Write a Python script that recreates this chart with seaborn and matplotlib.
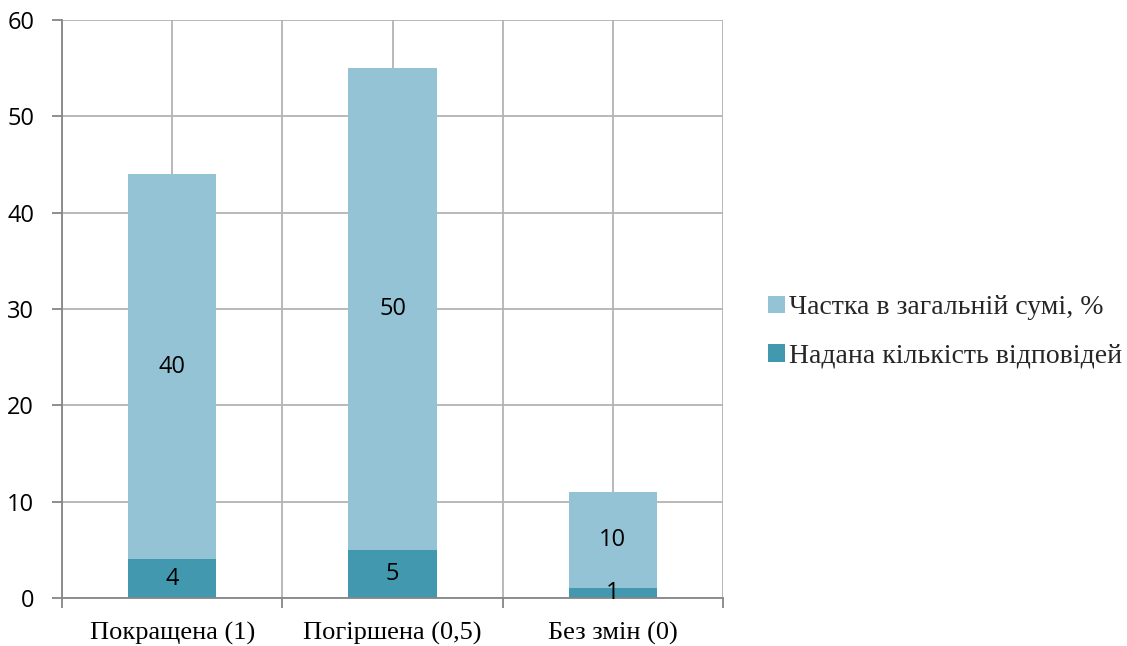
import matplotlib
matplotlib.use("Agg")
import matplotlib.pyplot as plt
import seaborn as sns
import pandas as pd
from matplotlib.patches import Patch

categories = ["Покращена (1)", "Погіршена (0,5)", "Без змін (0)"]
responses = [4, 5, 1]          # Надана кількість відповідей
share_pct = [40, 50, 10]       # Частка в загальній сумі, %
series_names = ["Частка в загальній сумі, %", "Надана кількість відповідей"]

light = "#93C3D4"
dark = "#4198AF"
grid_col = "#b3b3b3"
axis_col = "#868686"

sns.set_theme(style="white")
plt.rcParams["font.family"] = ["Open Sans", "DejaVu Sans"]

df = pd.DataFrame({
    "cat": categories,
    "resp": responses,
    "share": share_pct,
})
df["total"] = df["resp"] + df["share"]

fig = plt.figure(figsize=(11.27, 6.46), dpi=100)
ax = fig.add_axes([62 / 1127, 1 - 598 / 646, (723 - 62) / 1127, (598 - 20) / 646])

# stacked bars: full height in light colour, bottom segment drawn over it
sns.barplot(data=df, x="cat", y="total", color=light, width=0.4,
            saturation=1, linewidth=0, ax=ax, zorder=3)
sns.barplot(data=df, x="cat", y="resp", color=dark, width=0.4,
            saturation=1, linewidth=0, ax=ax, zorder=4)

ax.set_xlim(-0.5, 2.5)
ax.set_ylim(0, 60)
ax.set_yticks(range(0, 61, 10))
ax.set_xlabel("")
ax.set_ylabel("")

# vertical grid at category centres and boundaries
ax.set_xticks([-0.5, 0.5, 1.5, 2.5], minor=True)
ax.grid(axis="y", color=grid_col, linewidth=1.3, zorder=0)
ax.grid(axis="x", which="both", color=grid_col, linewidth=1.3, zorder=0)
ax.set_axisbelow(True)

for side in ["top", "right"]:
    ax.spines[side].set_visible(False)
for side in ["left", "bottom"]:
    ax.spines[side].set_color(axis_col)
    ax.spines[side].set_linewidth(1.3)
    ax.spines[side].set_zorder(5)

ax.tick_params(axis="y", which="major", left=True, length=7, width=1.3,
               color=axis_col, labelsize=17, pad=13, labelcolor="black")
ax.tick_params(axis="x", which="major", bottom=False, length=0, pad=17)
ax.tick_params(axis="x", which="minor", bottom=True, length=7, width=1.3,
               color=axis_col)
ax.set_xticklabels(categories, fontsize=19, family="Liberation Serif", color="black")

# value labels inside segments
for i, (r, s) in enumerate(zip(responses, share_pct)):
    ax.text(i, r / 2, str(r), ha="center", va="center", fontsize=17,
            color="black", zorder=6)
    ax.text(i, r + s / 2, str(s), ha="center", va="center", fontsize=17,
            color="black", zorder=6)

handles = [Patch(facecolor=light, edgecolor="none"),
           Patch(facecolor=dark, edgecolor="none")]
fig.legend(handles, series_names, loc="center left",
           bbox_to_anchor=(743 / 1127, 1 - 332 / 646),
           frameon=False, prop={"family": "Liberation Serif", "size": 20},
           handlelength=0.6, handleheight=0.6, handletextpad=0.15,
           labelspacing=0.85)

fig.savefig("out.png", dpi=100)
